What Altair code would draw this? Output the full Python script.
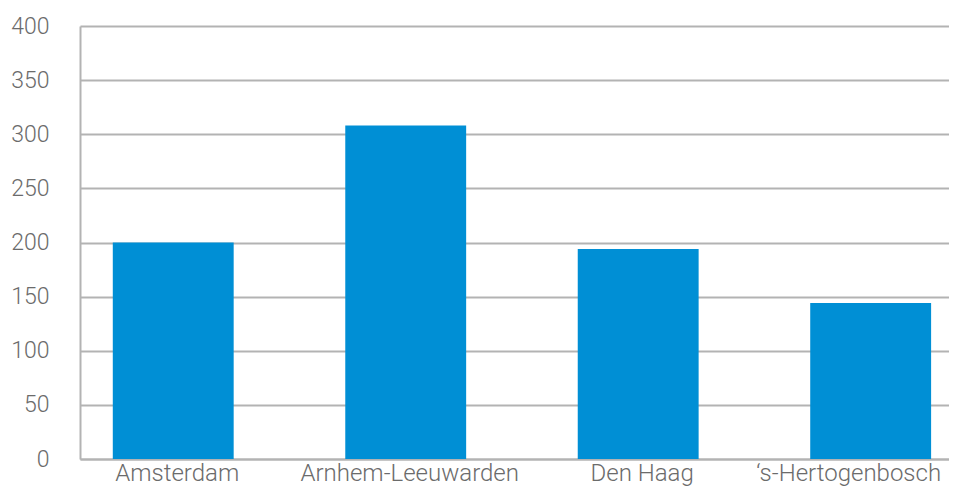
import altair as alt
import pandas as pd

categories = ["Amsterdam", "Arnhem-Leeuwarden", "Den Haag", "\u2018s-Hertogenbosch"]
values = [200, 308, 194, 144]

df = pd.DataFrame({"regio": categories, "waarde": values})

FONT = "Roboto"
LABEL_COLOR = "#6b6b6b"
GRID = "#b3b3b3"

chart = alt.Chart(df).mark_bar(color="#008FD5").encode(
    x=alt.X("regio:N", sort=categories, title=None,
            scale=alt.Scale(paddingInner=0.48, paddingOuter=0.109, align=0.647),
            axis=alt.Axis(labelAngle=0, ticks=False, domain=True, domainColor=GRID,
                          domainWidth=2, labelFont=FONT, labelFontSize=24,
                          labelFontWeight=300, labelColor=LABEL_COLOR, labelPadding=2,
                          labelLimit=400,
                          labelOffset={"condition": {"test": "datum.value == '\u2018s-Hertogenbosch'", "value": -22}, "value": 4})),
    y=alt.Y("waarde:Q", title=None,
            scale=alt.Scale(domain=[0, 400], nice=False),
            axis=alt.Axis(values=[0, 50, 100, 150, 200, 250, 300, 350, 400],
                          ticks=False, domain=True, domainColor=GRID, domainWidth=2,
                          grid=True, gridColor=GRID, gridWidth=2,
                          labelFont=FONT, labelFontSize=23, labelFontWeight=300,
                          labelColor=LABEL_COLOR, labelPadding=31)),
).properties(
    width=869, height=433,
    autosize=alt.AutoSizeParams(type="none"),
    padding={"left": 72, "top": 18, "right": 0, "bottom": 28},
).configure_view(stroke=None)

chart.save("out.html", embed_options={"renderer": "svg", "actions": False})
